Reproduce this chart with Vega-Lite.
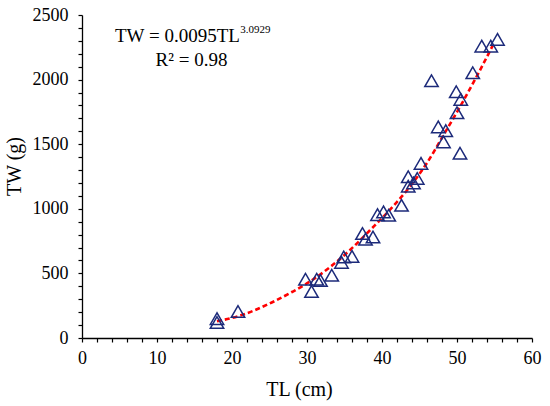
{
  "$schema": "https://vega.github.io/schema/vega-lite/v6.json",
  "width": 450,
  "height": 323,
  "autosize": {"type": "none"},
  "padding": {"left": 82, "top": 15, "right": 18, "bottom": 68},
  "background": "white",
  "config": {
    "view": {"stroke": null},
    "font": "Liberation Serif",
    "axis": {
      "ticks": true,
      "tickSize": 4,
      "tickColor": "#000000",
      "tickWidth": 1.2,
      "domainColor": "#000000",
      "domainWidth": 1.3,
      "grid": false,
      "labelColor": "#000000",
      "labelFont": "Liberation Serif",
      "labelFontSize": 18,
      "titleFont": "Liberation Serif",
      "titleFontSize": 20,
      "titleFontWeight": "normal",
      "titleColor": "#000000"
    }
  },
  "datasets": {
    "points": [
      {"TL": 18.0, "TW": 150}, {"TL": 18.0, "TW": 120}, {"TL": 20.8, "TW": 205},
      {"TL": 29.8, "TW": 455}, {"TL": 30.6, "TW": 360}, {"TL": 31.3, "TW": 455},
      {"TL": 31.8, "TW": 445}, {"TL": 33.3, "TW": 486}, {"TL": 34.6, "TW": 585},
      {"TL": 34.9, "TW": 627}, {"TL": 36.0, "TW": 632}, {"TL": 37.4, "TW": 809},
      {"TL": 37.8, "TW": 764}, {"TL": 38.8, "TW": 782}, {"TL": 39.4, "TW": 955},
      {"TL": 40.2, "TW": 976}, {"TL": 40.9, "TW": 950}, {"TL": 42.6, "TW": 1027},
      {"TL": 43.5, "TW": 1175}, {"TL": 43.5, "TW": 1248}, {"TL": 44.2, "TW": 1200},
      {"TL": 44.7, "TW": 1235}, {"TL": 45.2, "TW": 1352}, {"TL": 46.6, "TW": 1991},
      {"TL": 47.5, "TW": 1634}, {"TL": 48.5, "TW": 1605}, {"TL": 48.2, "TW": 1518},
      {"TL": 50.4, "TW": 1430}, {"TL": 49.9, "TW": 1906}, {"TL": 50.5, "TW": 1847},
      {"TL": 50.0, "TW": 1743}, {"TL": 52.1, "TW": 2053}, {"TL": 53.3, "TW": 2259},
      {"TL": 54.5, "TW": 2259}, {"TL": 55.4, "TW": 2311}
    ],
    "curve": [
      {"TL": 18.0, "TW": 130}, {"TL": 20.8, "TW": 168}, {"TL": 25.3, "TW": 275},
      {"TL": 28.0, "TW": 356}, {"TL": 29.7, "TW": 412}, {"TL": 33.1, "TW": 550},
      {"TL": 35.7, "TW": 679}, {"TL": 38.4, "TW": 834}, {"TL": 41.1, "TW": 995},
      {"TL": 43.7, "TW": 1170}, {"TL": 46.0, "TW": 1355}, {"TL": 48.2, "TW": 1570},
      {"TL": 50.4, "TW": 1790}, {"TL": 52.6, "TW": 2022}, {"TL": 54.8, "TW": 2267}
    ],
    "labels": [
      {"TL": 4.4, "TW": 2291, "text": "TW = 0.0095TL", "size": 19},
      {"TL": 21.1, "TW": 2361, "text": "3.0929", "size": 11}
    ],
    "labels2": [
      {"TL": 14.6, "TW": 2105, "text": "R² = 0.98"}
    ]
  },
  "encoding": {
    "x": {
      "field": "TL", "type": "quantitative",
      "scale": {"domain": [0, 60], "nice": false},
      "axis": {
        "title": "TL (cm)",
        "values": [0,2,4,6,8,10,12,14,16,18,20,22,24,26,28,30,32,34,36,38,40,42,44,46,48,50,52,54,56,58,60],
        "labelExpr": "datum.value % 10 === 0 ? datum.label : ''",
        "format": "d",
        "labelOverlap": false,
        "labelFlush": false,
        "labelPadding": 7,
        "titleX": 217,
        "titleY": 57,
        "titleBaseline": "alphabetic"
      }
    },
    "y": {
      "field": "TW", "type": "quantitative",
      "scale": {"domain": [0, 2500], "nice": false},
      "axis": {
        "title": "TW (g)",
        "values": [0,100,200,300,400,500,600,700,800,900,1000,1100,1200,1300,1400,1500,1600,1700,1800,1900,2000,2100,2200,2300,2400,2500],
        "labelExpr": "datum.value % 500 === 0 ? datum.label : ''",
        "format": "d",
        "labelOverlap": false,
        "labelFlush": false,
        "labelPadding": 10,
        "titleX": -62,
        "titleY": 151,
        "titleBaseline": "alphabetic"
      }
    }
  },
  "layer": [
    {
      "data": {"name": "curve"},
      "mark": {"type": "line", "color": "#ff0000", "strokeWidth": 2.6, "strokeDash": [5, 3], "interpolate": "monotone"},
      "encoding": {
        "order": {"field": "TL", "type": "quantitative"}
      }
    },
    {
      "data": {"name": "points"},
      "mark": {"type": "point", "shape": "triangle-up", "size": 180, "filled": false, "stroke": "#1c2a7a", "strokeWidth": 1.5, "opacity": 1},
      "encoding": {}
    },
    {
      "data": {"name": "labels"},
      "mark": {"type": "text", "align": "left", "baseline": "alphabetic", "font": "Liberation Serif", "color": "black"},
      "encoding": {
        "text": {"field": "text"},
        "size": {"field": "size", "type": "quantitative", "scale": null}
      }
    },
    {
      "data": {"name": "labels2"},
      "mark": {"type": "text", "align": "center", "baseline": "alphabetic", "font": "Liberation Serif", "fontSize": 19, "color": "black"},
      "encoding": {
        "text": {"field": "text"}
      }
    }
  ]
}
